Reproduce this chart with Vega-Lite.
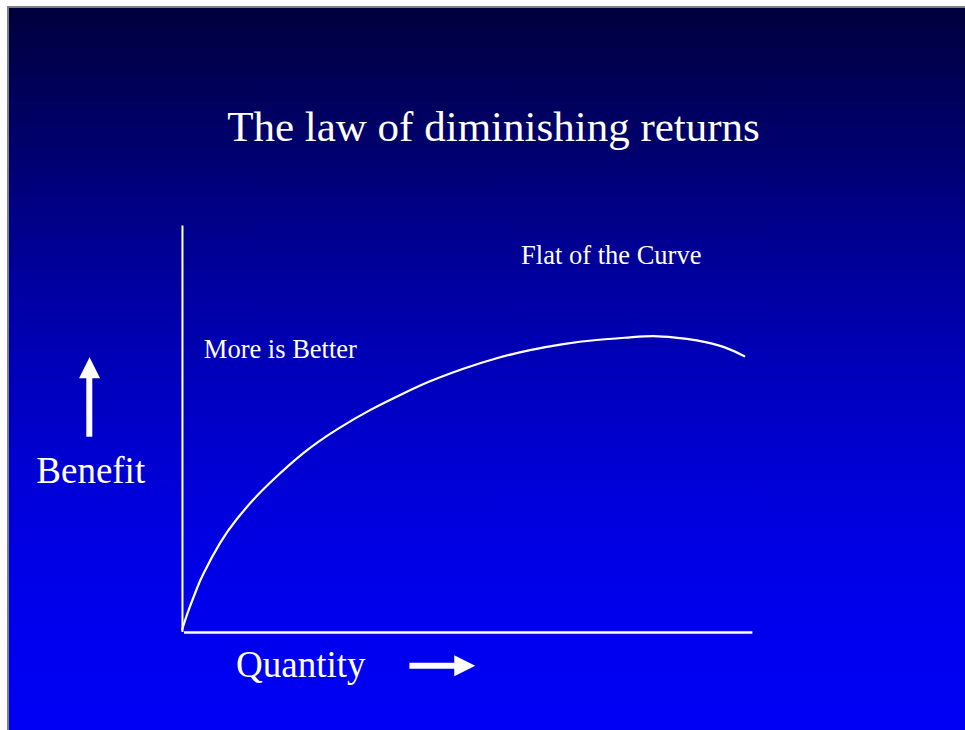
{
  "$schema": "https://vega.github.io/schema/vega-lite/v6.json",
  "width": 957,
  "height": 723,
  "autosize": {"type": "none"},
  "padding": {"left": 8, "top": 7, "right": 0, "bottom": 0},
  "background": "white",
  "config": {"view": {"stroke": null}},
  "encoding": {
    "x": {"field": "x", "type": "quantitative", "scale": {"domain": [-30.5, 137.35], "nice": false, "zero": false}, "axis": null},
    "y": {"field": "y", "type": "quantitative", "scale": {"domain": [-24.26, 154], "nice": false, "zero": false}, "axis": null}
  },
  "layer": [
    {
      "data": {"values": [{"x": -30.5, "x2": 160, "y": -30, "y2": 154}]},
      "mark": {
        "type": "rect",
        "stroke": "#808080",
        "strokeWidth": 2,
        "fill": {
          "gradient": "linear", "x1": 0, "y1": 0, "x2": 0, "y2": 1,
          "stops": [
            {"offset": 0, "color": "#00003c"},
            {"offset": 0.192, "color": "#00006e"},
            {"offset": 0.326, "color": "#000094"},
            {"offset": 0.46, "color": "#0000b4"},
            {"offset": 0.594, "color": "#0000cf"},
            {"offset": 0.728, "color": "#0000e4"},
            {"offset": 0.862, "color": "#0000f0"},
            {"offset": 1, "color": "#0000f6"}
          ]
        }
      },
      "encoding": {"x2": {"field": "x2"}, "y2": {"field": "y2"}}
    },
    {
      "data": {"values": [
        {"x": 0.1, "y": -0.1, "x2": 0.1, "y2": 100.1}
      ]},
      "mark": {"type": "rule", "color": "white", "strokeWidth": 2},
      "encoding": {"x2": {"field": "x2"}, "y2": {"field": "y2"}}
    },
    {
      "data": {"values": [
        {"x": 0.37, "y": -0.25, "x2": 100.06, "y2": -0.25}
      ]},
      "mark": {"type": "rule", "color": "white", "strokeWidth": 2.5},
      "encoding": {"x2": {"field": "x2"}, "y2": {"field": "y2"}}
    },
    {
      "data": {"values": [
        {"x": 0.0, "y": 0.3},
        {"x": 0.5, "y": 2.5},
        {"x": 1.42, "y": 6.2},
        {"x": 2.6, "y": 10.5},
        {"x": 3.75, "y": 14.2},
        {"x": 6.68, "y": 21.8},
        {"x": 9.61, "y": 27.7},
        {"x": 12.52, "y": 32.5},
        {"x": 15.45, "y": 36.7},
        {"x": 21.3, "y": 44.0},
        {"x": 27.15, "y": 49.8},
        {"x": 33.0, "y": 54.6},
        {"x": 38.84, "y": 58.7},
        {"x": 43.52, "y": 61.7},
        {"x": 49.36, "y": 64.8},
        {"x": 55.22, "y": 67.4},
        {"x": 61.06, "y": 69.4},
        {"x": 66.9, "y": 70.9},
        {"x": 72.76, "y": 71.9},
        {"x": 78.6, "y": 72.55},
        {"x": 82.69, "y": 72.85},
        {"x": 86.5, "y": 72.5},
        {"x": 90.3, "y": 71.8},
        {"x": 94.97, "y": 70.2},
        {"x": 98.78, "y": 67.8}
      ]},
      "mark": {"type": "line", "color": "white", "strokeWidth": 2.2, "interpolate": "natural"},
      "encoding": {"order": {"field": "x", "type": "quantitative"}}
    },
    {
      "data": {"values": [
        {"x": -16.24, "y": 48.05, "x2": -16.24, "y2": 63.5}
      ]},
      "mark": {"type": "rule", "color": "white", "strokeWidth": 6},
      "encoding": {"x2": {"field": "x2"}, "y2": {"field": "y2"}}
    },
    {
      "data": {"values": [
        {"x": 39.9, "y": -8.41, "x2": 48.0, "y2": -8.41}
      ]},
      "mark": {"type": "rule", "color": "white", "strokeWidth": 6},
      "encoding": {"x2": {"field": "x2"}, "y2": {"field": "y2"}}
    },
    {
      "data": {"values": [{"x": -16.19, "y": 65.04}]},
      "mark": {"type": "point", "shape": "M-1,1L0,-1L1,1Z", "size": 441, "filled": true, "color": "white", "opacity": 1, "strokeWidth": 0}
    },
    {
      "data": {"values": [{"x": 49.61, "y": -8.43}]},
      "mark": {"type": "point", "shape": "M-1,-1L1,0L-1,1Z", "size": 441, "filled": true, "color": "white", "opacity": 1, "strokeWidth": 0}
    },
    {
      "data": {"values": [{"x": 54.65, "y": 120.96, "label": "The law of diminishing returns"}]},
      "mark": {"type": "text", "font": "Liberation Serif", "fontSize": 43, "color": "white", "align": "center", "baseline": "alphabetic"},
      "encoding": {"text": {"field": "label"}}
    },
    {
      "data": {"values": [
        {"x": -15.99, "y": 36.71, "label": "Benefit"},
        {"x": 20.86, "y": -11.12, "label": "Quantity"}
      ]},
      "mark": {"type": "text", "font": "Liberation Serif", "fontSize": 37, "color": "white", "align": "center", "baseline": "alphabetic"},
      "encoding": {"text": {"field": "label"}}
    },
    {
      "data": {"values": [
        {"x": 75.31, "y": 90.56, "label": "Flat of the Curve"},
        {"x": 17.27, "y": 67.38, "label": "More is Better"}
      ]},
      "mark": {"type": "text", "font": "Liberation Serif", "fontSize": 26.5, "color": "white", "align": "center", "baseline": "alphabetic"},
      "encoding": {"text": {"field": "label"}}
    }
  ]
}
